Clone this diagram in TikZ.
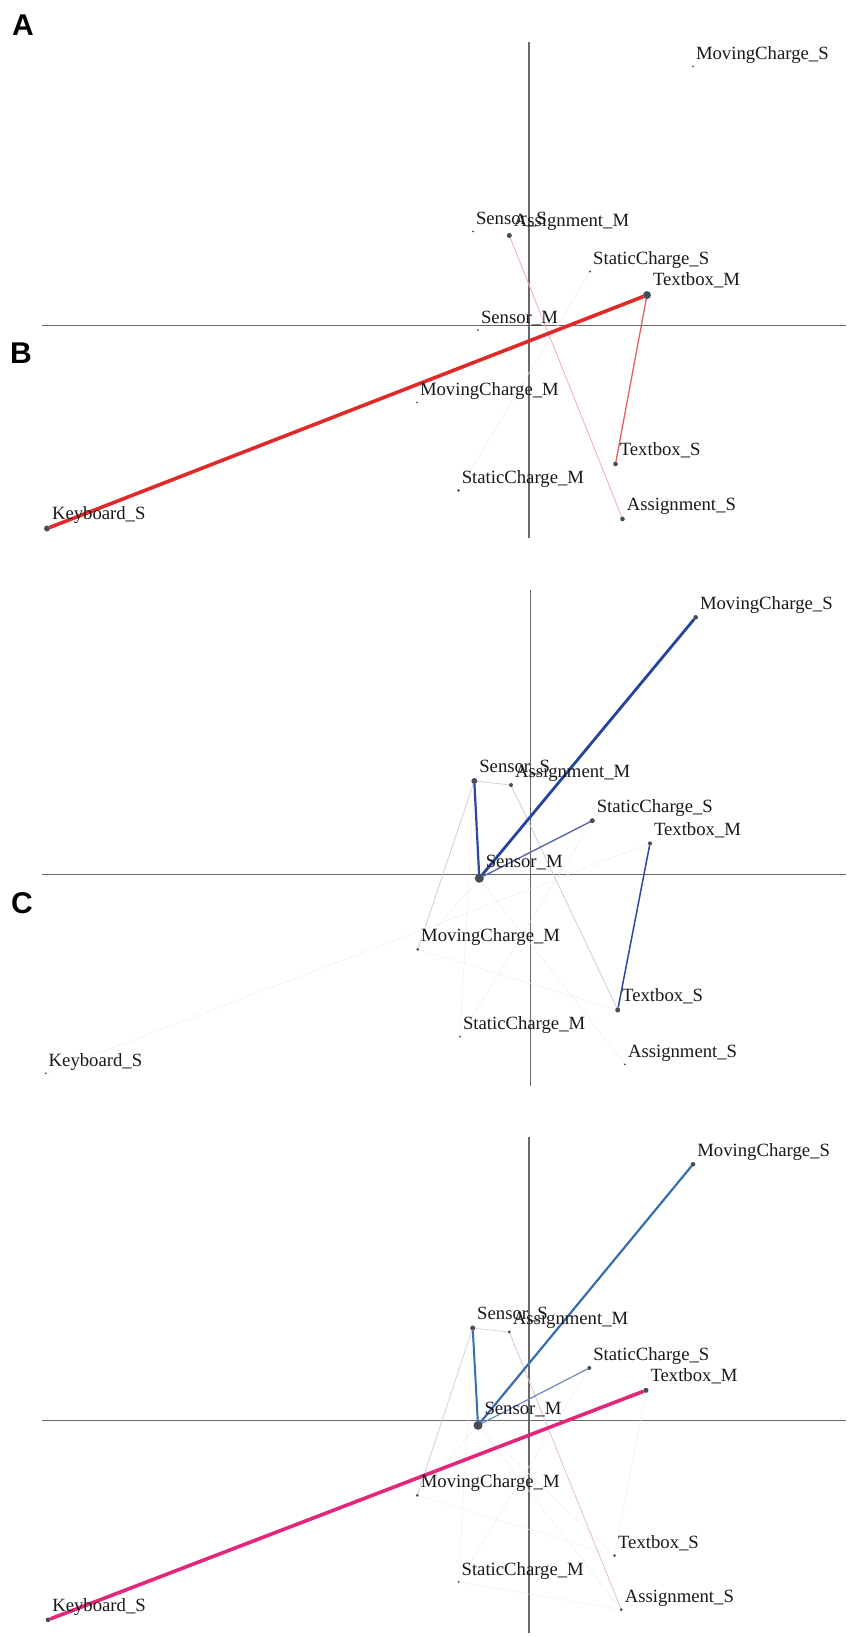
\documentclass[tikz,border=0pt]{standalone}
\usepackage{fontspec}
\setmainfont{Liberation Serif}
\newfontfamily\letterfont{Liberation Sans}
\pgfdeclarelayer{axislayer}
\pgfdeclarelayer{edgelayer}
\pgfsetlayers{axislayer,edgelayer,main}
\definecolor{axisgray}{RGB}{105,105,105}
\definecolor{dotcol}{RGB}{72,76,90}
\definecolor{redA}{RGB}{224,42,42}
\definecolor{redB}{RGB}{228,95,95}
\definecolor{redC}{RGB}{240,172,172}
\definecolor{redD}{RGB}{251,232,232}
\definecolor{blueA}{RGB}{35,68,158}
\definecolor{blueB}{RGB}{45,72,160}
\definecolor{blueC}{RGB}{85,105,172}
\definecolor{blueD}{RGB}{196,200,222}
\definecolor{blueE}{RGB}{236,237,244}
\definecolor{magA}{RGB}{226,38,122}
\definecolor{steelA}{RGB}{55,110,178}
\definecolor{steelB}{RGB}{105,140,192}
\definecolor{pinkC}{RGB}{228,190,202}
\definecolor{grayD}{RGB}{204,205,214}
\definecolor{grayE}{RGB}{239,239,243}
\tikzset{
  dotnode/.style={circle,fill=dotcol,inner sep=0pt,outer sep=0pt},
  lbl/.style={inner sep=0pt,outer sep=0pt,text=black!90,font=\fontsize{18.7}{22}\selectfont},
  panelletter/.style={inner sep=0pt,font=\letterfont\bfseries\fontsize{30}{32}\selectfont},
  axisline/.style={draw=axisgray,line width=1.2pt},
}
\newcommand\mkpt[5]{%
  \node[dotnode,minimum size={#4*2pt}] (#1) at (#2,#3) {};
  \node[lbl,anchor=base west] (#1-l) at ({#2+2+#4},{#3+6+#4}) {#5};}
\begin{document}
\begin{tikzpicture}[x=1pt,y=-1pt]
\useasboundingbox (0,0) rectangle (854,1637);
% panel letters
\node[panelletter] (letA) at (23,25) {A};
\node[panelletter] (letB) at (21,353) {B};
\node[panelletter] (letC) at (22,903) {C};
% ---------------- Panel A ----------------
\begin{scope}[shift={(529,325.5)},yscale=-1]
  \coordinate (a-vt) at (0,283.5);
  \coordinate (a-vb) at (0,-212.5);
  \coordinate (a-hl) at (-487,0);
  \coordinate (a-hr) at (317,0);
  \begin{pgfonlayer}{axislayer}
    \draw[axisline] (a-vt) -- (a-vb);
    \draw[axisline] (a-hl) -- (a-hr);
  \end{pgfonlayer}
  \mkpt{a-mcs}{164}{259}{1}{MovingCharge\_S}
  \mkpt{a-ss}{-56}{94}{1}{Sensor\_S}
  \mkpt{a-am}{-19.7}{90}{2.5}{Assignment\_M}
  \mkpt{a-scs}{61}{54}{1.2}{StaticCharge\_S}
  \mkpt{a-tm}{118}{30.4}{4}{Textbox\_M}
  \mkpt{a-sm}{-51}{-4.6}{1}{Sensor\_M}
  \mkpt{a-mcm}{-112}{-77}{1}{MovingCharge\_M}
  \mkpt{a-ts}{86.5}{-138.5}{2.3}{Textbox\_S}
  \mkpt{a-scm}{-70.5}{-165}{1.3}{StaticCharge\_M}
  \mkpt{a-as}{93.5}{-193.5}{2.3}{Assignment\_S}
  \mkpt{a-ks}{-482}{-203}{3}{Keyboard\_S}
  \begin{pgfonlayer}{edgelayer}
    \draw[redD,line width=0.6pt] (a-scs) -- (a-scm);
    \draw[redC,line width=0.8pt] (a-am) -- (a-as);
    \draw[redB,line width=1.3pt] (a-tm) -- (a-ts);
    \draw[redA,line width=3.6pt] (a-ks) -- (a-tm);
  \end{pgfonlayer}
\end{scope}
% ---------------- Panel B ----------------
\begin{scope}[shift={(530.7,874.3)},yscale=-1]
  \coordinate (b-vt) at (0,284.5);
  \coordinate (b-vb) at (0,-211.5);
  \coordinate (b-hl) at (-488.7,0);
  \coordinate (b-hr) at (315.3,0);
  \begin{pgfonlayer}{axislayer}
    \draw[axisline] (b-vt) -- (b-vb);
    \draw[axisline] (b-hl) -- (b-hr);
  \end{pgfonlayer}
  \mkpt{b-mcs}{165}{257}{2.3}{MovingCharge\_S}
  \mkpt{b-ss}{-56.4}{93.3}{3}{Sensor\_S}
  \mkpt{b-am}{-19.7}{89.3}{2}{Assignment\_M}
  \mkpt{b-scs}{61.6}{53.6}{2.5}{StaticCharge\_S}
  \mkpt{b-tm}{119.3}{31}{2}{Textbox\_M}
  \mkpt{b-sm}{-51.4}{-4}{4.5}{Sensor\_M}
  \mkpt{b-mcm}{-113}{-75}{1.5}{MovingCharge\_M}
  \mkpt{b-ts}{87}{-135.7}{2.5}{Textbox\_S}
  \mkpt{b-scm}{-70.7}{-162.4}{1}{StaticCharge\_M}
  \mkpt{b-as}{94.3}{-190}{1}{Assignment\_S}
  \mkpt{b-ks}{-485}{-199}{1}{Keyboard\_S}
  \begin{pgfonlayer}{edgelayer}
    \draw[blueE,line width=0.5pt] (b-ks) -- (b-tm);
    \draw[blueE,line width=0.5pt] (b-ss) -- (b-scm);
    \draw[blueE,line width=0.5pt] (b-scs) -- (b-scm);
    \draw[blueE,line width=0.5pt] (b-sm) -- (b-mcm);
    \draw[blueE,line width=0.5pt] (b-sm) -- (b-as);
    \draw[blueE,line width=0.5pt] (b-mcm) -- (b-ts);
    \draw[blueD,line width=0.6pt] (b-ss) -- (b-am);
    \draw[blueD,line width=0.7pt] (b-ss) -- (b-mcm);
    \draw[blueD,line width=0.7pt] (b-am) -- (b-ts);
    \draw[blueC,line width=1.4pt] (b-sm) -- (b-scs);
    \draw[blueB,line width=1.5pt] (b-tm) -- (b-ts);
    \draw[blueB,line width=2.2pt] (b-sm) -- (b-ss);
    \draw[blueA,line width=2.8pt] (b-sm) -- (b-mcs);
  \end{pgfonlayer}
\end{scope}
% ---------------- Panel C ----------------
\begin{scope}[shift={(529,1420.3)},yscale=-1]
  \coordinate (c-vt) at (0,283.7);
  \coordinate (c-vb) at (0,-212.4);
  \coordinate (c-hl) at (-487,0);
  \coordinate (c-hr) at (317,0);
  \begin{pgfonlayer}{axislayer}
    \draw[axisline] (c-vt) -- (c-vb);
    \draw[axisline] (c-hl) -- (c-hr);
  \end{pgfonlayer}
  \mkpt{c-mcs}{164}{256}{2.3}{MovingCharge\_S}
  \mkpt{c-ss}{-56.3}{92.3}{2.5}{Sensor\_S}
  \mkpt{c-am}{-19.7}{88.3}{1.6}{Assignment\_M}
  \mkpt{c-scs}{60.3}{52.3}{2}{StaticCharge\_S}
  \mkpt{c-tm}{117}{30}{2.5}{Textbox\_M}
  \mkpt{c-sm}{-51}{-5}{4.5}{Sensor\_M}
  \mkpt{c-mcm}{-111.7}{-75}{1.5}{MovingCharge\_M}
  \mkpt{c-ts}{85.6}{-135.3}{1.5}{Textbox\_S}
  \mkpt{c-scm}{-70.4}{-161.7}{1}{StaticCharge\_M}
  \mkpt{c-as}{92.3}{-189.3}{1.5}{Assignment\_S}
  \mkpt{c-ks}{-481}{-199.5}{2.3}{Keyboard\_S}
  \begin{pgfonlayer}{edgelayer}
    \draw[grayE,line width=0.5pt] (c-tm) -- (c-ts);
    \draw[grayE,line width=0.5pt] (c-ss) -- (c-scm);
    \draw[grayE,line width=0.5pt] (c-scs) -- (c-scm);
    \draw[grayE,line width=0.5pt] (c-sm) -- (c-mcm);
    \draw[grayE,line width=0.5pt] (c-sm) -- (c-ts);
    \draw[grayE,line width=0.5pt] (c-sm) -- (c-as);
    \draw[grayE,line width=0.5pt] (c-scm) -- (c-as);
    \draw[grayE,line width=0.5pt] (c-mcm) -- (c-ts);
    \draw[grayD,line width=0.6pt] (c-ss) -- (c-am);
    \draw[grayD,line width=0.7pt] (c-ss) -- (c-mcm);
    \draw[pinkC,line width=0.8pt] (c-am) -- (c-as);
    \draw[steelB,line width=1.2pt] (c-sm) -- (c-scs);
    \draw[steelA,line width=2pt] (c-sm) -- (c-ss);
    \draw[steelA,line width=2.2pt] (c-sm) -- (c-mcs);
    \draw[magA,line width=3.6pt] (c-ks) -- (c-tm);
  \end{pgfonlayer}
\end{scope}
\end{tikzpicture}
\end{document}
